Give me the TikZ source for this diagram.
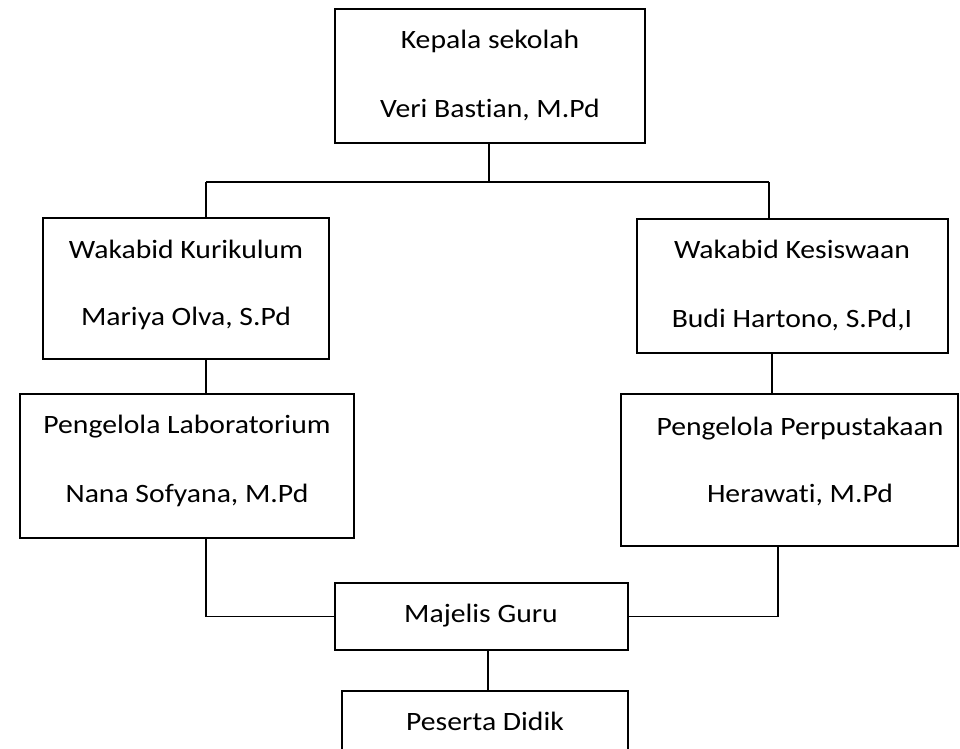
\documentclass[tikz,border=0pt]{standalone}
\usepackage{fontspec}
\setmainfont{Carlito}[FakeStretch=1.12, Ligatures=NoCommon]
\begin{document}
\begin{tikzpicture}[x=1pt,y=-1pt,
  box/.style={draw, line width=1.6pt, inner sep=0pt, outer sep=0pt, rectangle},
  lbl/.style={anchor=base, inner sep=0pt, font=\fontsize{26.5}{30}\selectfont},
  conn/.style={line width=1.6pt}]
\useasboundingbox (0,0) rectangle (960,748);
\clip (0,0) rectangle (960,748);
% boxes
\node[box, minimum width=310pt, minimum height=134pt] (top) at (490,76) {};
\node[box, minimum width=286pt, minimum height=141pt] (kur) at (186,288.5) {};
\node[box, minimum width=311pt, minimum height=134pt] (kes) at (792.5,286) {};
\node[box, minimum width=334pt, minimum height=144pt] (lab) at (187,466) {};
\node[box, minimum width=337pt, minimum height=152pt] (per) at (789.5,470) {};
\node[box, minimum width=293pt, minimum height=67pt] (maj) at (481.5,616.5) {};
\node[box, minimum width=286pt, minimum height=69pt] (pes) at (485,725.5) {};
% texts
\node[lbl] (t1) at (490,48) {Kepala sekolah};
\node[lbl] (t2) at (490,117) {Veri Bastian, M.Pd};
\node[lbl] (t3) at (186,258) {Wakabid Kurikulum};
\node[lbl] (t4) at (186,325) {Mariya Olva, S.Pd};
\node[lbl] (t5) at (792,258) {Wakabid Kesiswaan};
\node[lbl] (t6) at (792,327) {Budi Hartono, S.Pd,I};
\node[lbl] (t7) at (187,433) {Pengelola Laboratorium};
\node[lbl] (t8) at (187,502) {Nana Sofyana, M.Pd};
\node[lbl] (t9) at (800,435) {Pengelola Perpustakaan};
\node[lbl] (t10) at (800,502) {Herawati, M.Pd};
\node[lbl] (t11) at (481,622) {Majelis Guru};
\node[lbl] (t12) at (485,730) {Peserta Didik};
% connectors
\coordinate (j) at (489,182);
\coordinate (hl) at (206,182);
\coordinate (hr) at (769,182);
\coordinate (kx) at (772,0);
\coordinate (px) at (778,0);
\coordinate (mx) at (488,0);
\draw[conn] (top.south -| j) -- (j);
\draw[conn] (hl) -- (hr);
\draw[conn] (hl) -- (hl |- kur.north);
\draw[conn] (hr) -- (hr |- kes.north);
\draw[conn] (kur.south -| hl) -- (lab.north -| hl);
\draw[conn] (kes.south -| kx) -- (per.north -| kx);
\draw[conn] (lab.south -| hl) |- (maj.west);
\draw[conn] (per.south -| px) |- (maj.east);
\draw[conn] (maj.south -| mx) -- (pes.north -| mx);
\end{tikzpicture}
\end{document}
